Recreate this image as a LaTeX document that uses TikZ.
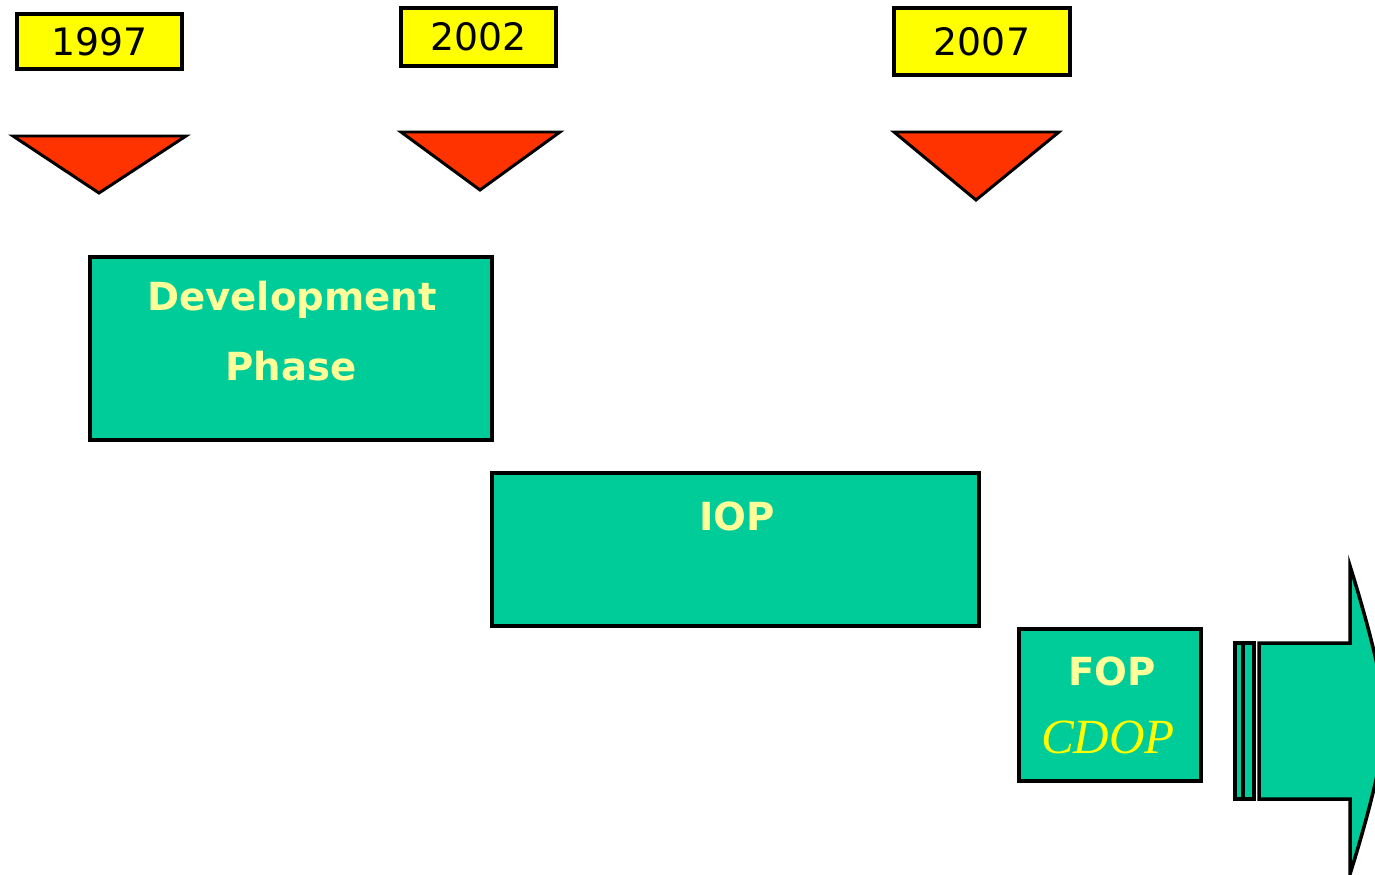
\documentclass[tikz,border=0pt]{standalone}
\usepackage{fontspec}
\setmainfont{DejaVu Sans}
\newfontfamily\cdopfont{Liberation Serif}
\definecolor{phasegreen}{RGB}{0,204,153}
\definecolor{paleyellow}{RGB}{255,255,153}
\definecolor{yearyellow}{RGB}{255,255,0}
\definecolor{markred}{RGB}{255,51,0}
\tikzset{
  yearbox/.style={draw=black, line width=2pt, fill=yearyellow, inner sep=0pt, font=\fontsize{21.5}{24}\selectfont},
  phasebox/.style={draw=black, line width=2pt, fill=phasegreen, inner sep=0pt},
  phasetext/.style={text=paleyellow, font=\fontsize{22}{25}\selectfont\bfseries, inner sep=0pt},
  marker/.style={draw=black, line width=1.7pt, fill=markred, line join=miter},
  arrowpart/.style={draw=black, line width=2pt, fill=phasegreen}
}
\begin{document}
\begin{tikzpicture}[x=0.02cm, y=-0.02cm]
\useasboundingbox (0,0) rectangle (1375,875);
% year boxes
\node[yearbox, minimum width=3.3cm, minimum height=1.1cm] (y1) at (99.5,41.5) {1997};
\node[yearbox, minimum width=3.1cm, minimum height=1.16cm] (y2) at (478.5,37) {2002};
\node[yearbox, minimum width=3.52cm, minimum height=1.34cm] (y3) at (982,41.5) {2007};
% markers
\draw[marker] (13,136) -- (186,136) -- (99,193) -- cycle;
\draw[marker] (401,132) -- (560,132) -- (480,190) -- cycle;
\draw[marker] (894,132) -- (1059,132) -- (976,200) -- cycle;
% phases
\node[phasebox, minimum width=8.04cm, minimum height=3.66cm] (dev) at (291,348.5) {};
\node[phasetext] (devt1) at (292,300) {Development};
\node[phasetext] (devt2) at (291,366) {Phase};
\node[phasebox, minimum width=9.74cm, minimum height=3.06cm] (iop) at (735.5,549.5) {};
\node[phasetext] (iopt) at (737,516) {IOP};
\node[phasebox, minimum width=3.64cm, minimum height=3.04cm] (fop) at (1110,705) {};
\node[phasetext] (fopt) at (1112,671) {FOP};
\node[text=yearyellow, inner sep=0pt, font=\cdopfont\itshape\fontsize{28}{30}\selectfont] (cdop) at (1108,737) {CDOP};
% continuation arrow
\begin{scope}
\clip (0,0) rectangle (1375,875);
\draw[arrowpart] (1235,643) rectangle (1254,799);
\draw[black, line width=2.4pt] (1243,643) -- (1243,799);
\draw[arrowpart, line join=miter] (1259,643) -- (1350,643) -- (1350,566)
  .. controls (1370,630) and (1385,690) .. (1385,720)
  .. controls (1385,750) and (1370,810) .. (1350,874)
  -- (1350,799) -- (1259,799) -- cycle;
\end{scope}
\end{tikzpicture}
\end{document}
